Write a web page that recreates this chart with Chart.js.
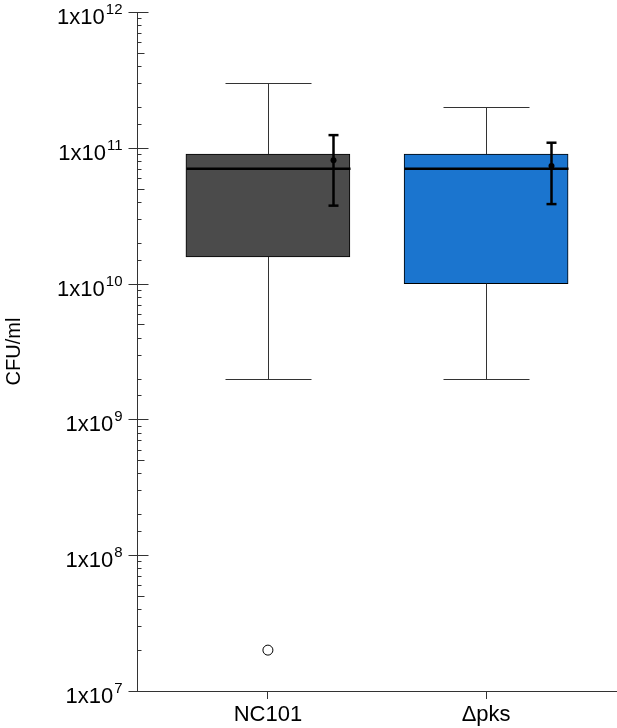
<!DOCTYPE html>
<html>
<head>
<meta charset="utf-8">
<script src="https://cdn.jsdelivr.net/npm/chart.js@4"></script>
<style>
  body { margin: 0; background: #fff; }
  #wrap { width: 617px; height: 728px; }
</style>
</head>
<body>
<div id="wrap"><canvas id="chart"></canvas></div>
<script>
// box plot summary per strain, CFU/ml
const categories = ['NC101', 'Δpks'];
const whiskerLow = [2.0e9, 2.0e9];
const q1 = [1.57e10, 1.0e10];
const medians = [7.0e10, 7.0e10];
const q3 = [9.0e10, 9.0e10];
const whiskerHigh = [3.0e11, 2.0e11];
const means = [8.1e10, 7.35e10];
const meanLow = [3.75e10, 3.85e10];
const meanHigh = [1.24e11, 1.09e11];
const outliers = [[2.0e7], []];
const boxColors = ['#4b4b4b', '#1b75cf'];

const FONT = '"Liberation Sans", Arial, sans-serif';
Chart.defaults.font.family = FONT;
Chart.defaults.color = '#000';

const AXIS = '#333';

function seg(ctx, x1, y1, x2, y2) {
  ctx.beginPath();
  ctx.moveTo(x1, y1);
  ctx.lineTo(x2, y2);
  ctx.stroke();
}

// whiskers, medians, mean +/- error, and log axis decorations
const boxExtras = {
  id: 'boxExtras',
  afterDatasetsDraw(chart) {
    const { ctx, scales: { x, y } } = chart;
    ctx.save();
    categories.forEach((c, i) => {
      const cx = Math.round(x.getPixelForValue(i)) + 0.5;
      const capHalf = 43;
      const boxHalf = 82;
      ctx.strokeStyle = AXIS;
      ctx.lineWidth = 1;
      const yHi = Math.round(y.getPixelForValue(whiskerHigh[i])) + 0.5;
      const yLo = Math.round(y.getPixelForValue(whiskerLow[i])) + 0.5;
      seg(ctx, cx, y.getPixelForValue(q3[i]), cx, yHi);
      seg(ctx, cx, y.getPixelForValue(q1[i]), cx, yLo);
      seg(ctx, cx - capHalf, yHi, cx + capHalf, yHi);
      seg(ctx, cx - capHalf, yLo, cx + capHalf, yLo);

      // median
      ctx.strokeStyle = '#000';
      ctx.lineWidth = 2.5;
      const ym = y.getPixelForValue(medians[i]);
      seg(ctx, cx - boxHalf, ym, cx + boxHalf, ym);

      // mean with error bar
      const mx = cx + 65;
      const eHi = y.getPixelForValue(meanHigh[i]);
      const eLo = y.getPixelForValue(meanLow[i]);
      seg(ctx, mx, eHi, mx, eLo);
      seg(ctx, mx - 5, eHi, mx + 5, eHi);
      seg(ctx, mx - 5, eLo, mx + 5, eLo);
      ctx.fillStyle = '#000';
      ctx.beginPath();
      ctx.arc(mx, y.getPixelForValue(means[i]), 3, 0, Math.PI * 2);
      ctx.fill();
    });
    ctx.restore();
  },
  afterDraw(chart) {
    const { ctx, scales: { y } } = chart;
    const ax = Math.round(y.right) + 0.5;
    ctx.save();
    ctx.strokeStyle = AXIS;
    ctx.lineWidth = 1;
    y.ticks.forEach(t => {
      const py = Math.round(y.getPixelForValue(t.value)) + 0.5;
      const exp = Math.floor(Math.log10(t.value) + 1e-9);
      const mant = Math.round(t.value / Math.pow(10, exp));
      if (mant === 1) {
        seg(ctx, ax - 9, py, ax + 11, py);
        // label 1x10^n
        const sup = String(exp);
        const right = ax - 15;
        ctx.fillStyle = '#000';
        ctx.textAlign = 'right';
        ctx.textBaseline = 'alphabetic';
        ctx.font = '15px ' + FONT;
        const supW = ctx.measureText(sup).width;
        ctx.fillText(sup, right, py + 1);
        ctx.font = '22px ' + FONT;
        ctx.fillText('1x10', right - supW - 1, py + 11);
      } else if (mant === 5) {
        seg(ctx, ax, py, ax + 7, py);
      } else {
        seg(ctx, ax, py, ax + 4, py);
      }
    });
    ctx.restore();
  }
};

const boxData = categories.map((c, i) => ({ x: i, y: [q1[i], q3[i]] }));
const outlierData = [];
outliers.forEach((list, i) => list.forEach(v => outlierData.push({ x: i, y: v })));

new Chart(document.getElementById('chart'), {
  type: 'bar',
  data: {
    datasets: [
      {
        type: 'bar',
        data: boxData,
        backgroundColor: boxColors,
        borderColor: '#000',
        borderWidth: 1,
        borderSkipped: false,
        barThickness: 164
      },
      {
        type: 'scatter',
        data: outlierData,
        pointRadius: 5,
        pointBackgroundColor: '#fff',
        pointBorderColor: '#000',
        pointBorderWidth: 1
      }
    ]
  },
  options: {
    responsive: true,
    maintainAspectRatio: false,
    animation: false,
    layout: { autoPadding: false, padding: { top: 12, left: 0, right: 0, bottom: 0 } },
    plugins: { legend: { display: false }, tooltip: { enabled: false } },
    scales: {
      x: {
        type: 'linear',
        min: -0.6,
        max: 1.6,
        offset: false,
        afterBuildTicks: s => { s.ticks = categories.map((c, i) => ({ value: i })); },
        afterFit: s => { s.height = 37; s.paddingLeft = 0; s.paddingRight = 0; },
        border: { display: true, color: AXIS, width: 1 },
        grid: { display: true, offset: false, drawOnChartArea: false, drawTicks: true, tickLength: 8, color: AXIS },
        ticks: {
          padding: 3,
          font: { size: 22 },
          color: '#000',
          maxRotation: 0,
          autoSkip: false,
          callback: v => categories[v] ?? ''
        }
      },
      y: {
        type: 'logarithmic',
        min: 1e7,
        max: 1e12,
        afterFit: s => { s.width = 137; s.paddingTop = 0; s.paddingBottom = 0; },
        border: { display: true, color: AXIS, width: 1 },
        grid: { display: false },
        ticks: { display: false },
        title: {
          display: true,
          text: 'CFU/ml',
          font: { size: 20 },
          color: '#000',
          padding: { top: 2, bottom: 0 }
        }
      }
    }
  },
  plugins: [boxExtras]
});
</script>
</body>
</html>
